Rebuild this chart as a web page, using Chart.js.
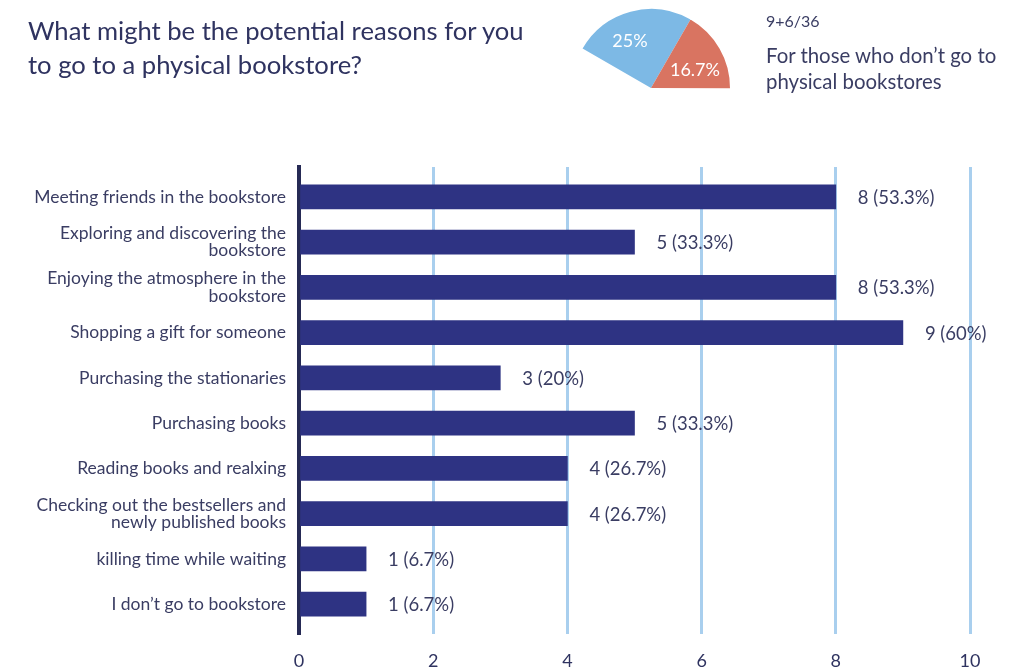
<!DOCTYPE html>
<html>
<head>
<meta charset="utf-8">
<script src="https://cdn.jsdelivr.net/npm/chart.js@4/dist/chart.umd.min.js"></script>
<style>
  html, body { margin: 0; padding: 0; background: #fff; }
  body { width: 1014px; height: 671px; position: relative; overflow: hidden; font-family: Lato, sans-serif; color: #2f3360; }
  #title { position: absolute; left: 28px; top: 13px; font-size: 25.6px; line-height: 34px; }
  #note { position: absolute; left: 766px; top: 11px; font-size: 16px; color: #3a3d63; }
  #sub { position: absolute; left: 766px; top: 42px; font-size: 20.4px; line-height: 26px; color: #3a3d63; }
  #bars { position: absolute; left: 0; top: 0; }
  #pie { position: absolute; left: 566px; top: 3px; }
</style>
</head>
<body>
<canvas id="bars" width="1014" height="671"></canvas>
<canvas id="pie" width="170" height="170"></canvas>
<div id="title">What might be the potential reasons for you<br>to go to a physical bookstore?</div>
<div id="note">9+6/36</div>
<div id="sub">For those who don’t go to<br>physical bookstores</div>
<script>
// reasons, top to bottom
var reasons = [
  ['Meeting friends in the bookstore'],
  ['Exploring and discovering the', 'bookstore'],
  ['Enjoying the atmosphere in the', 'bookstore'],
  ['Shopping a gift for someone'],
  ['Purchasing the stationaries'],
  ['Purchasing books'],
  ['Reading books and realxing'],
  ['Checking out the bestsellers and', 'newly published books'],
  ['killing time while waiting'],
  ['I don’t go to bookstore']
];
var counts  = [8, 5, 8, 9, 3, 5, 4, 4, 1, 1];
var percent = ['53.3%', '33.3%', '53.3%', '60%', '20%', '33.3%', '26.7%', '26.7%', '6.7%', '6.7%'];
var xTicks = [0, 2, 4, 6, 8, 10];

// small pie up top
var pieLabels = ['25%', '16.7%', ''];
var pieValues = [25, 16.7, 58.3];

var navy = '#2e3383';
var textCol = '#3a3d63';

var barPoints = [];
for (let i = 0; i < counts.length; i++) {
  barPoints.push({x: counts[i], y: i});
}

// "8 (53.3%)" next to each bar
var valueLabels = {
  id: 'valueLabels',
  afterDatasetsDraw(chart) {
    var ctx = chart.ctx;
    var meta = chart.getDatasetMeta(0);
    ctx.save();
    ctx.font = '18.5px Lato';
    ctx.fillStyle = textCol;
    ctx.textBaseline = 'middle';
    meta.data.forEach(function (bar, i) {
      ctx.fillText(counts[i] + ' (' + percent[i] + ')', bar.x + 22, bar.y + 1);
    });
    ctx.restore();
  }
};

new Chart(document.getElementById('bars'), {
  type: 'bar',
  data: {
    datasets: [{
      data: barPoints,
      backgroundColor: navy,
      barThickness: 24
    }]
  },
  options: {
    indexAxis: 'y',
    responsive: false,
    animation: false,
    devicePixelRatio: 1,
    layout: { padding: { top: 167, right: 44, left: 0, bottom: 0 } },
    plugins: { legend: { display: false }, tooltip: { enabled: false } },
    scales: {
      x: {
        type: 'linear',
        min: 0,
        max: 10,
        afterBuildTicks: function (s) { s.ticks = xTicks.map(v => ({value: v})); },
        afterFit: function (s) { s.height = 37; },
        border: { display: false },
        grid: {
          drawTicks: false,
          lineWidth: 3,
          color: function (c) { return c.tick && c.tick.value === 0 ? 'rgba(0,0,0,0)' : '#a9cfee'; }
        },
        ticks: { padding: 16, color: '#2f3360', font: { family: 'Lato', size: 18 } }
      },
      y: {
        type: 'linear',
        reverse: true,
        offset: false,
        min: -0.66,
        max: 9.66,
        afterBuildTicks: function (s) { s.ticks = reasons.map((r, i) => ({value: i})); },
        afterFit: function (s) { s.width = 299; },
        grid: { display: false, drawTicks: false, offset: false },
        border: { display: true, color: '#262a55', width: 4 },
        ticks: {
          padding: 13,
          color: textCol,
          font: { family: 'Lato', size: 17.5, lineHeight: 0.98 },
          callback: function (v) { return reasons[v]; }
        }
      }
    }
  },
  plugins: [valueLabels]
});

// white % text inside the two visible slices
var pieText = {
  id: 'pieText',
  afterDatasetsDraw(chart) {
    var ctx = chart.ctx;
    var meta = chart.getDatasetMeta(0);
    var nudge = [-0.16, 0.14];
    var dist = [0.65, 0.6];
    ctx.save();
    ctx.font = '18px Lato';
    ctx.fillStyle = '#ffffff';
    ctx.textAlign = 'center';
    ctx.textBaseline = 'middle';
    meta.data.forEach(function (arc, i) {
      if (!pieLabels[i]) return;
      var p = arc.getProps(['x', 'y', 'startAngle', 'endAngle', 'outerRadius'], true);
      var mid = (p.startAngle + p.endAngle) / 2 + nudge[i];
      var r = p.outerRadius * dist[i];
      ctx.fillText(pieLabels[i], p.x + Math.cos(mid) * r, p.y + Math.sin(mid) * r);
    });
    ctx.restore();
  }
};

new Chart(document.getElementById('pie'), {
  type: 'pie',
  data: {
    labels: pieLabels,
    datasets: [{
      data: pieValues,
      backgroundColor: ['#7db9e5', '#d97461', 'rgba(0,0,0,0)'],
      borderWidth: 0
    }]
  },
  options: {
    responsive: false,
    animation: false,
    devicePixelRatio: 1,
    rotation: -60,
    layout: { padding: 6 },
    plugins: { legend: { display: false }, tooltip: { enabled: false } }
  },
  plugins: [pieText]
});
</script>
</body>
</html>
